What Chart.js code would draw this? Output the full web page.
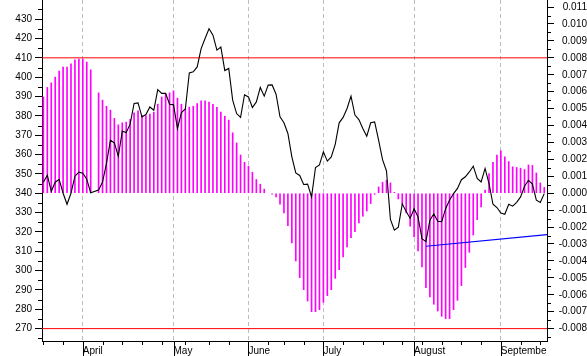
<!DOCTYPE html>
<html><head><meta charset="utf-8">
<script src="https://cdn.jsdelivr.net/npm/chart.js@4/dist/chart.umd.min.js"></script>
<style>html,body{margin:0;padding:0;background:#fff;overflow:hidden}canvas{display:block}</style>
</head><body>
<canvas id="c" width="587" height="356"></canvas>
<script>
// ---- data ----
const monthLabels = ['April', 'May', 'June', 'July', 'August', 'September'];
const monthStarts = [10, 33, 52, 71, 94, 116];           // trading-day index of month start
const weekStarts = [0, 5, 15, 20, 25, 30, 36, 42, 47, 57, 61, 66, 76, 81, 86, 91, 96, 101, 106, 111, 121, 126];

const price = [
  345.7, 349.3, 341.0, 345.7, 347.2, 340.0, 334.3, 340.0, 348.8, 350.9,
  350.3, 347.2, 340.2, null, 341.6, 345.8, 355.4, 367.4, 366.0, 359.1,
  372.1, 371.4, 375.7, 386.4, 386.7, 379.5, 380.7, 384.6, 382.9, 393.6,
  391.6, 391.6, 386.0, 385.7, 373.5, 381.7, 383.6, 402.2, 402.8, 405.3,
  414.8, 420.0, 425.0, 421.7, 414.0, 415.6, 403.4, 404.5, 388.1, 381.2,
  379.2, 390.9, 389.8, 384.3, 387.2, 394.7, 390.2, 395.9, 396.0, 391.2,
  379.5, 376.4, 370.9, 358.8, 350.5, 349.2, 344.5, 344.7, 338.1, 353.3,
  354.6, 361.4, 356.6, 358.8, 365.3, 376.4, 379.2, 383.8, 390.2, 380.4,
  378.1, 373.5, 369.5, 376.4, 376.9, 367.4, 357.4, 351.5, 326.5, 320.9,
  322.5, 334.5, 330.5, 327.0, 332.0, 327.7, 316.5, 315.0, 326.0, 329.3,
  325.5, 325.3, 332.0, 336.5, 339.8, 342.5, 347.0, 348.5, 351.0, 354.0,
  347.6, 345.8, 352.8, 345.0, 334.3, 332.6, 329.8, 329.1, 334.3, 333.3,
  335.3, 338.1, 343.6, 346.7, 344.7, 336.4, 335.2, 339.8
];

const histogram = [
  0.00569, 0.00625, 0.00652, 0.00686, 0.00721, 0.00745, 0.00745, 0.00765, 0.00788, 0.00792,
  0.00792, 0.00775, 0.00729, null, 0.00593, 0.00550, 0.00514, 0.00491, 0.00442, 0.00404,
  0.00416, 0.00420, 0.00436, 0.00475, 0.00487, 0.00459, 0.00459, 0.00467, 0.00479, 0.00526,
  0.00569, 0.00588, 0.00593, 0.00605, 0.00562, 0.00526, 0.00497, 0.00509, 0.00514, 0.00530,
  0.00546, 0.00546, 0.00538, 0.00526, 0.00507, 0.00479, 0.00455, 0.00432, 0.00357, 0.00297,
  0.00226, 0.00183, 0.00160, 0.00124, 0.00081, 0.00053, 0.00024, null, -0.00005, -0.00022,
  -0.00065, -0.00116, -0.00191, -0.00294, -0.00400, -0.00499, -0.00570, -0.00637, -0.00700, -0.00700,
  -0.00688, -0.00645, -0.00605, -0.00570, -0.00503, -0.00451, -0.00377, -0.00317, -0.00262, -0.00227,
  -0.00176, -0.00136, -0.00105, -0.00061, -0.00007, 0.00037, 0.00065, 0.00077, 0.00061, 0.00005,
  -0.00034, -0.00065, -0.00116, -0.00195, -0.00258, -0.00341, -0.00436, -0.00558, -0.00613, -0.00656,
  -0.00696, -0.00727, -0.00741, -0.00741, -0.00688, -0.00633, -0.00546, -0.00439, -0.00349, -0.00247,
  -0.00156, -0.00081, 0.00018, 0.00116, 0.00183, 0.00226, 0.00250, 0.00215, 0.00187, 0.00156,
  0.00152, 0.00148, 0.00140, 0.00167, 0.00164, 0.00120, 0.00061, 0.00034
];

const upperLevel = 410;
const lowerLevel = 270;
const trendLine = [{x: 97, y: 312.6}, {x: 127.7, y: 318.6}];

const priceTicks = [270, 280, 290, 300, 310, 320, 330, 340, 350, 360, 370, 380, 390, 400, 410, 420, 430];
const oscTicks = [-0.008, -0.007, -0.006, -0.005, -0.004, -0.003, -0.002, -0.001, 0, 0.001, 0.002, 0.003, 0.004, 0.005, 0.006, 0.007, 0.008, 0.009, 0.010, 0.011];

// ---- chart ----
const xMin = -0.35, xMax = 127.7;
const pMin = 263.6, pMax = 439.9;
const oscPerPrice = 1 / 8750; // oscillator zero aligned with price 340
const oMin = (pMin - 340) * oscPerPrice, oMax = (pMax - 340) * oscPerPrice;

Chart.defaults.font.family = "'Liberation Sans', Arial, sans-serif";
Chart.defaults.font.size = 10;
Chart.defaults.color = '#000';

const pts = arr => arr.map((v, i) => ({x: i, y: v}));

const extraTicks = {
  id: 'extraTicks',
  beforeDraw(chart) {
    const xs = chart.scales.x;
    if (!xs.__clip) {
      const orig = xs.drawLabels.bind(xs);
      xs.drawLabels = function (a) {
        const c = chart.ctx; c.save(); c.beginPath();
        c.rect(0, 0, chart.chartArea.right, chart.height); c.clip();
        orig(a); c.restore();
      };
      xs.__clip = true;
    }
  },
  afterDraw(chart) {
    const {ctx, chartArea: a} = chart;
    const {x, y, y2} = chart.scales;
    ctx.save();
    ctx.strokeStyle = '#000';
    ctx.lineWidth = 1;
    ctx.beginPath();
    const b = Math.round(a.bottom);
    weekStarts.forEach(v => {
      const px = Math.round(x.getPixelForValue(v)) + 0.5;
      ctx.moveTo(px, b); ctx.lineTo(px, b + 4);
    });
    monthStarts.forEach(v => {
      const px = Math.round(x.getPixelForValue(v)) + 0.5;
      ctx.moveTo(px, b); ctx.lineTo(px, chart.height);
    });
    for (let v = 265; v < pMax; v += 10) {
      const py = Math.round(y.getPixelForValue(v)) + 0.5;
      ctx.moveTo(a.left - 4, py); ctx.lineTo(a.left, py);
    }
    for (let k = -17; k <= 23; k += 2) {
      const v = k / 2000;
      if (v < oMin || v > oMax) continue;
      const py = Math.round(y2.getPixelForValue(v)) + 0.5;
      ctx.moveTo(a.right, py); ctx.lineTo(a.right + 4, py);
    }
    ctx.stroke();
    ctx.restore();
  }
};

const noPadY = s => { s.paddingTop = 0; s.paddingBottom = 0; };

new Chart(document.getElementById('c'), {
  type: 'bar',
  data: {
    datasets: [
      {type: 'line', data: pts(price), yAxisID: 'y', borderColor: '#000', borderWidth: 1.1, pointRadius: 0, tension: 0, spanGaps: true, order: 0},
      {type: 'line', data: trendLine, yAxisID: 'y', borderColor: '#0000ff', borderWidth: 1.2, pointRadius: 0, order: 0},
      {type: 'line', data: [{x: xMin, y: upperLevel}, {x: xMax, y: upperLevel}], yAxisID: 'y', borderColor: '#ff0000', borderWidth: 1, pointRadius: 0, order: 1},
      {type: 'line', data: [{x: xMin, y: lowerLevel}, {x: xMax, y: lowerLevel}], yAxisID: 'y', borderColor: '#ff0000', borderWidth: 1, pointRadius: 0, order: 1},
      {type: 'bar', data: pts(histogram), yAxisID: 'y2', backgroundColor: '#ff00ff', borderWidth: 0, barThickness: 1, order: 2}
    ]
  },
  options: {
    responsive: false,
    animation: false,
    devicePixelRatio: 1,
    layout: {padding: 0},
    plugins: {legend: {display: false}, tooltip: {enabled: false}},
    scales: {
      x: {
        type: 'linear', min: xMin, max: xMax, offset: false,
        afterBuildTicks: s => { s.ticks = monthStarts.map(v => ({value: v})); },
        afterFit: s => { s.height = 15; s.paddingLeft = 0; s.paddingRight = 0; },
        ticks: {autoSkip: false, maxRotation: 0, align: 'start', padding: 4,
                callback: (v, i) => monthLabels[i]},
        grid: {display: true, offset: false, drawOnChartArea: true, drawTicks: false, color: '#bdbdbd', lineWidth: 1},
        border: {display: true, color: '#000', width: 1, dash: [4, 3]}
      },
      y: {
        type: 'linear', position: 'left', min: pMin, max: pMax,
        afterBuildTicks: s => { s.ticks = priceTicks.map(v => ({value: v})); },
        afterFit: s => { s.width = 42; noPadY(s); },
        ticks: {padding: 3, callback: v => String(v)},
        grid: {drawOnChartArea: false, drawTicks: true, tickLength: 7, tickColor: '#000'},
        border: {display: true, color: '#000', width: 1}
      },
      y2: {
        type: 'linear', position: 'right', min: oMin, max: oMax,
        afterBuildTicks: s => { s.ticks = oscTicks.map(v => ({value: v})); },
        afterFit: s => { s.width = 40; noPadY(s); },
        ticks: {padding: 2, crossAlign: 'far', callback: v => Number(v).toFixed(3)},
        grid: {drawOnChartArea: false, drawTicks: true, tickLength: 7, tickColor: '#000'},
        border: {display: true, color: '#000', width: 1}
      }
    }
  },
  plugins: [extraTicks]
});
</script>
</body></html>
